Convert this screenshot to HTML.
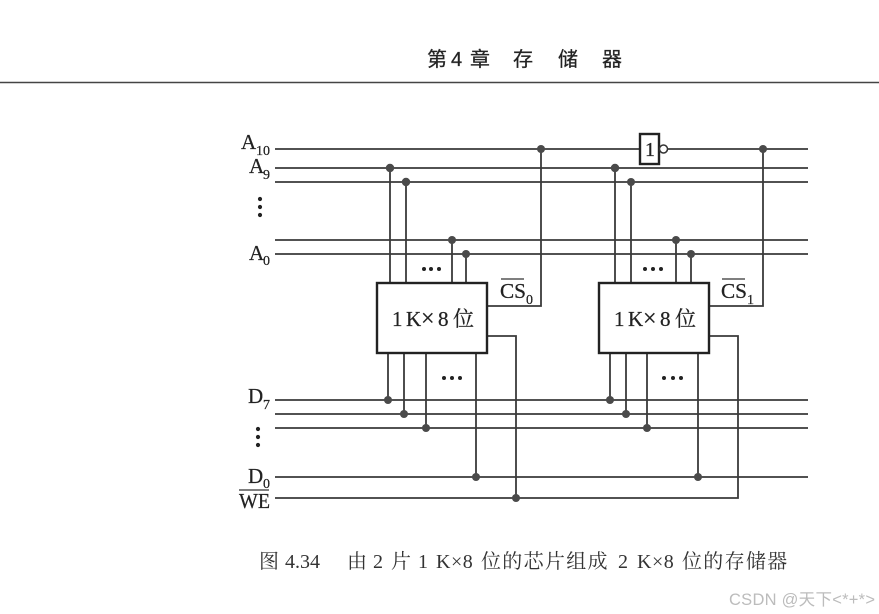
<!DOCTYPE html>
<html><head><meta charset="utf-8">
<style>
html,body{margin:0;padding:0;background:#fff}
svg{display:block}
text{font-family:"Liberation Serif","Noto Serif CJK SC",serif;fill:#222;stroke:#222;stroke-width:.25}
.s{font-size:14px}
.l{font-size:21px}
.h{font-family:"Liberation Sans","Noto Sans CJK SC",sans-serif;font-size:20px;stroke:#333;stroke-width:.3}
.c{font-size:20px;letter-spacing:1.3px;stroke:none;fill:#333}
.b{font-size:21px}
</style></head>
<body>
<svg width="879" height="614" viewBox="0 0 879 614" xmlns="http://www.w3.org/2000/svg">
<rect width="879" height="614" fill="#fff"/>
<text class="h" x="427" y="66">第</text>
<text class="h" x="451" y="66">4</text>
<text class="h" x="470" y="66">章</text>
<text class="h" x="513" y="66">存</text>
<text class="h" x="558" y="66">储</text>
<text class="h" x="602" y="66">器</text>
<line x1="0" y1="82.5" x2="879" y2="82.5" stroke="#444" stroke-width="1.4"/>

<g stroke="#3a3a3a" stroke-width="1.8" fill="none">
<path d="M275 149H640M668 149H808"/>
<path d="M275 168H808M275 182H808M275 240H808M275 254H808"/>
<path d="M275 400H808M275 414H808M275 428H808M275 477H808M275 498H738V336H709"/>
<path d="M390 168V283M406 182V283M452 240V283M466 254V283"/>
<path d="M615 168V283M631 182V283M676 240V283M691 254V283"/>
<path d="M541 149V306H487M763 149V306H709"/>
<path d="M388 353V400M404 353V414M426 353V428M476 353V477M487 336H516V498"/>
<path d="M610 353V400M626 353V414M647 353V428M698 353V477"/>
</g>
<g stroke="#222" stroke-width="2.4" fill="#fff">
<rect x="377" y="283" width="110" height="70"/>
<rect x="599" y="283" width="110" height="70"/>
<rect x="640" y="134" width="19" height="30"/>
</g>
<circle cx="663.500" cy="149" r="4" fill="#fff" stroke="#333" stroke-width="1.5"/>
<g fill="#4a4a4a">
<circle cx="390" cy="168" r="4.200"/><circle cx="406" cy="182" r="4.200"/><circle cx="452" cy="240" r="4"/><circle cx="466" cy="254" r="4"/>
<circle cx="615" cy="168" r="4.200"/><circle cx="631" cy="182" r="4"/><circle cx="676" cy="240" r="4"/><circle cx="691" cy="254" r="4"/>
<circle cx="541" cy="149" r="4"/><circle cx="763" cy="149" r="4"/>
<circle cx="388" cy="400" r="4"/><circle cx="404" cy="414" r="4"/><circle cx="426" cy="428" r="4"/><circle cx="476" cy="477" r="4"/>
<circle cx="610" cy="400" r="4"/><circle cx="626" cy="414" r="4"/><circle cx="647" cy="428" r="4"/><circle cx="698" cy="477" r="4"/>
<circle cx="516" cy="498" r="4"/>
</g>
<g fill="#222">
<circle cx="260" cy="199" r="2.100"/><circle cx="260" cy="207" r="2.100"/><circle cx="260" cy="215" r="2.100"/>
<circle cx="258" cy="429" r="2.100"/><circle cx="258" cy="437" r="2.100"/><circle cx="258" cy="445" r="2.100"/>
<circle cx="424" cy="269" r="2"/><circle cx="431" cy="269" r="2"/><circle cx="439" cy="269" r="2"/>
<circle cx="645" cy="269" r="2"/><circle cx="653" cy="269" r="2"/><circle cx="661" cy="269" r="2"/>
<circle cx="444" cy="378" r="2"/><circle cx="452" cy="378" r="2"/><circle cx="460" cy="378" r="2"/>
<circle cx="664" cy="378" r="2"/><circle cx="673" cy="378" r="2"/><circle cx="681" cy="378" r="2"/>
</g>

<text class="l" x="241" y="149">A</text><text class="s" x="256" y="155">10</text>
<text class="l" x="249" y="173">A</text><text class="s" x="263" y="179">9</text>
<text class="l" x="249" y="260">A</text><text class="s" x="263" y="265">0</text>
<text class="l" x="248" y="403">D</text><text class="s" x="263" y="409">7</text>
<text class="l" x="248" y="483">D</text><text class="s" x="263" y="488">0</text>
<text class="l" x="239" y="508" textLength="31" lengthAdjust="spacingAndGlyphs">WE</text>
<line x1="239" y1="490" x2="269" y2="490" stroke="#333" stroke-width="1.3"/>

<text class="l" x="500" y="298" textLength="26" lengthAdjust="spacingAndGlyphs">CS</text><text class="s" x="526" y="304">0</text>
<line x1="501" y1="279" x2="524" y2="279" stroke="#333" stroke-width="1.3"/>
<text class="l" x="721" y="298" textLength="26" lengthAdjust="spacingAndGlyphs">CS</text><text class="s" x="747" y="304">1</text>
<line x1="722" y1="279" x2="745" y2="279" stroke="#333" stroke-width="1.3"/>

<text class="b" x="392" y="326">1</text><text class="b" x="406" y="326">K</text><text class="b" x="421" y="326" font-size="24" style="font-size:24px">×</text><text class="b" x="438" y="326">8</text><text class="b" x="453" y="326">位</text>
<text class="b" x="614" y="326">1</text><text class="b" x="628" y="326">K</text><text class="b" x="643" y="326" style="font-size:24px">×</text><text class="b" x="660" y="326">8</text><text class="b" x="675" y="326">位</text>
<text x="645" y="156" font-size="20">1</text>

<text class="c" x="259" y="568">图</text>
<text class="c" x="285" y="568" style="letter-spacing:0">4.34</text>
<text class="c" x="347" y="568">由</text>
<text class="c" x="373" y="568">2</text>
<text class="c" x="391" y="568">片</text>
<text class="c" x="418" y="568">1</text>
<text class="c" x="436" y="568" style="letter-spacing:.5px">K×8</text>
<text class="c" x="481" y="568">位的芯片组成</text>
<text class="c" x="618" y="568">2</text>
<text class="c" x="637" y="568" style="letter-spacing:.5px">K×8</text>
<text class="c" x="682" y="568">位的存储器</text>
<text x="729" y="605" font-size="16.500" textLength="146" style="font-family:'Liberation Sans','Noto Sans CJK SC',sans-serif;fill:#bcbcbc;stroke:none">CSDN @天下&lt;*+*&gt;</text>
</svg>
</body></html>
